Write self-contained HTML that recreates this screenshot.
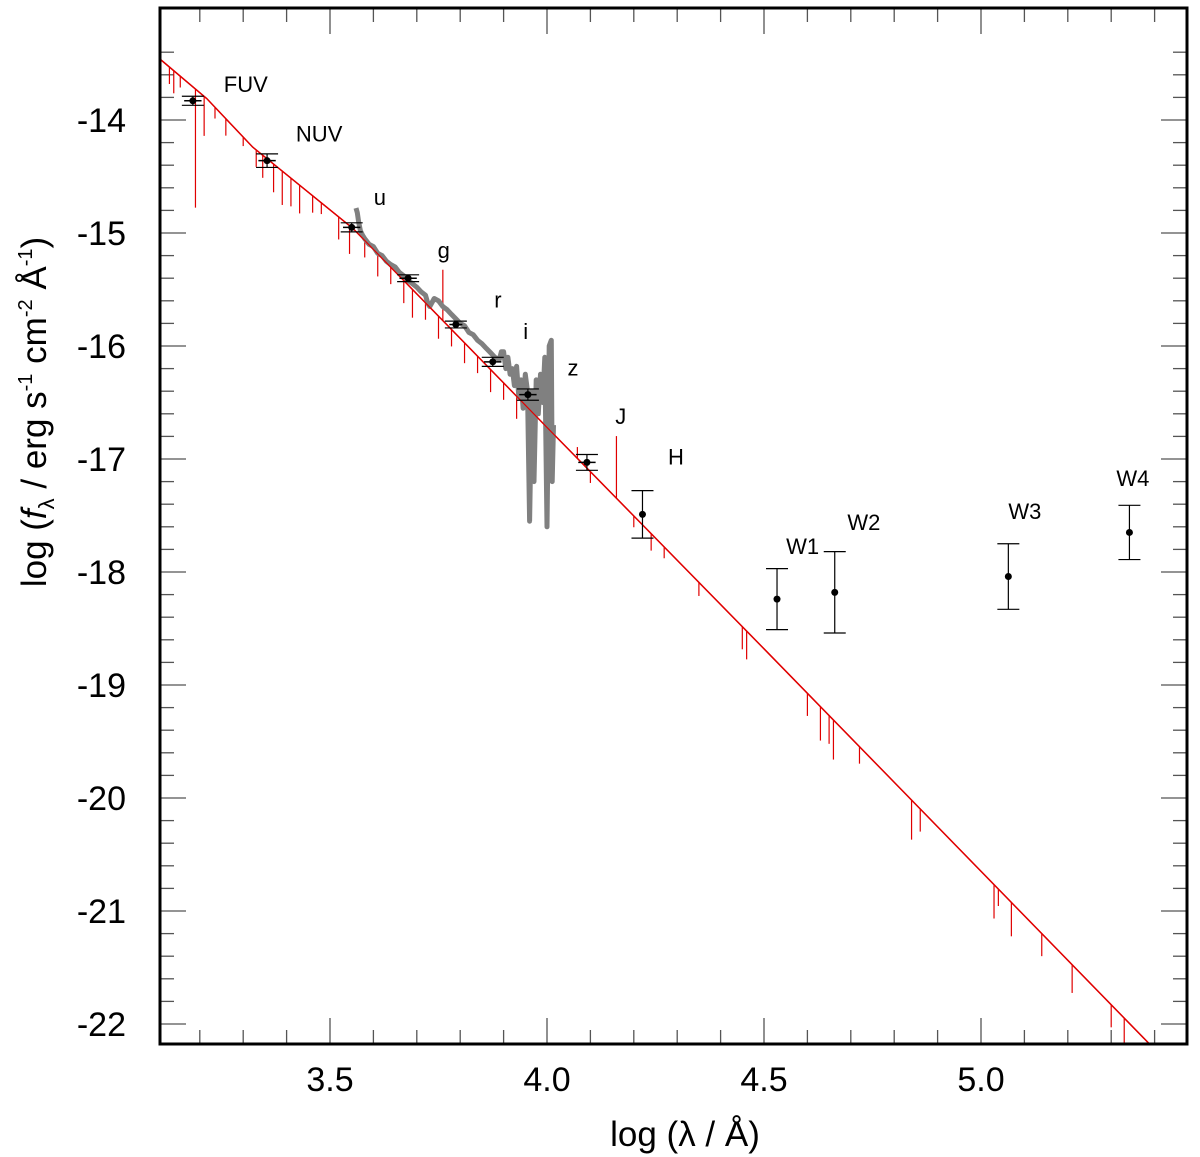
<!DOCTYPE html>
<html><head><meta charset="utf-8">
<style>
body{margin:0;background:#fff;}
svg{display:block;font-family:"Liberation Sans","DejaVu Sans",sans-serif;}
</style></head>
<body>
<svg id="chart" width="1200" height="1157" viewBox="0 0 1200 1157" xmlns="http://www.w3.org/2000/svg">
<g id="ticks"></g>
<g id="model"></g>
<g id="spec"></g>
<g id="pts"></g>
<g id="labs"></g>
<rect x="160" y="8" width="1027" height="1036" fill="none" stroke="#000" stroke-width="3"/>
<text x="685" y="1146" font-size="35" text-anchor="middle">log (λ / Å)</text>
<text transform="translate(46,412) rotate(-90)" font-size="35" text-anchor="middle">log (<tspan font-style="italic">f</tspan><tspan font-size="22" dy="8">λ</tspan><tspan dy="-8"> / erg s</tspan><tspan font-size="20" dy="-14">-1</tspan><tspan dy="14"> cm</tspan><tspan font-size="20" dy="-14">-2</tspan><tspan dy="14"> Å</tspan><tspan font-size="20" dy="-14">-1</tspan><tspan dy="14">)</tspan></text>
</svg>
<script>
const xTicks = [3.5, 4.0, 4.5, 5.0];
const xTickLabels = ["3.5", "4.0", "4.5", "5.0"];
const yTicks = [-14, -15, -16, -17, -18, -19, -20, -21, -22];
const yTickLabels = ["-14", "-15", "-16", "-17", "-18", "-19", "-20", "-21", "-22"];
const bands = ["FUV","NUV","u","g","r","i","z","J","H","W1","W2","W3","W4"];
const bandX = [3.184,3.355,3.55,3.68,3.79,3.875,3.956,4.092,4.22,4.53,4.663,5.063,5.342];
const bandY = [-13.83,-14.36,-14.95,-15.40,-15.81,-16.14,-16.43,-17.03,-17.49,-18.24,-18.18,-18.04,-17.65];
const bandErr = [0.04,0.06,0.04,0.03,0.03,0.04,0.05,0.07,0.21,0.27,0.36,0.29,0.24];
const bandXErr = [0.02,0.02,0.02,0.02,0.015,0.02,0.02,0.02,0,0,0,0,0];
const labelX = [3.306,3.475,3.615,3.762,3.887,3.951,4.060,4.170,4.297,4.589,4.730,5.101,5.350];
const labelY = [-13.75,-14.19,-14.75,-15.22,-15.66,-15.94,-16.26,-16.69,-17.05,-17.84,-17.63,-17.53,-17.24];
const modelX = [3.108,3.216,3.322,3.553,4.0,4.5,5.45];
const modelY = [-13.46,-13.81,-14.24,-14.96,-16.72,-18.68,-22.42];
const spikeX = [3.13,3.14,3.155,3.19,3.21,3.235,3.26,3.30,3.33,3.345,3.37,3.39,3.41,3.43,3.46,3.48,3.52,3.545,3.58,3.61,3.64,3.67,3.69,3.72,3.75,3.76,3.78,3.81,3.84,3.87,3.90,3.93,3.97,4.01,4.07,4.10,4.16,4.2,4.24,4.27,4.35,4.45,4.46,4.6,4.63,4.65,4.66,4.72,4.84,4.86,5.03,5.04,5.07,5.14,5.21,5.3,5.33,5.41];
const spikeD = [-0.15,-0.2,-0.1,-1.05,-0.35,-0.1,-0.15,-0.08,-0.15,-0.2,-0.25,-0.3,-0.25,-0.25,-0.15,-0.1,-0.2,-0.25,-0.15,-0.2,-0.15,-0.2,-0.25,-0.15,-0.2,0.45,-0.15,-0.18,-0.15,-0.2,-0.15,-0.2,-0.18,-0.1,0.1,-0.1,0.55,-0.1,-0.15,-0.1,-0.12,-0.2,-0.25,-0.2,-0.3,-0.25,-0.35,-0.15,-0.35,-0.2,-0.3,-0.15,-0.3,-0.2,-0.25,-0.2,-0.3,-0.2];
const specX = [3.560,3.563,3.566,3.57,3.575,3.58,3.59,3.60,3.61,3.62,3.63,3.64,3.65,3.66,3.67,3.68,3.69,3.70,3.71,3.72,3.725,3.73,3.74,3.75,3.76,3.77,3.78,3.79,3.80,3.81,3.82,3.83,3.84,3.85,3.86,3.87,3.88,3.89,3.895,3.90,3.905,3.91,3.915,3.92,3.925,3.93,3.935,3.94,3.945,3.95,3.955,3.96,3.965,3.97,3.975,3.98,3.985,3.99,3.995,4.00,4.005,4.01,4.012,4.015];
const specY = [-14.78,-14.82,-14.9,-14.98,-15.02,-15.05,-15.1,-15.12,-15.18,-15.2,-15.25,-15.28,-15.3,-15.35,-15.38,-15.42,-15.45,-15.48,-15.52,-15.55,-15.62,-15.65,-15.58,-15.6,-15.65,-15.68,-15.72,-15.76,-15.8,-15.82,-15.88,-15.9,-15.95,-15.98,-16.02,-16.06,-16.1,-16.12,-16.05,-16.05,-16.2,-16.1,-16.25,-16.2,-16.35,-16.18,-16.45,-16.3,-16.55,-16.25,-16.4,-17.55,-16.4,-17.2,-16.3,-16.6,-16.25,-16.5,-16.1,-17.6,-16.0,-15.95,-17.2,-16.7];

const NS="http://www.w3.org/2000/svg";
const X0=160,X1=1187,Y0=8,Y1=1044;
const sx=v=>330+(v-3.5)*434;
const sy=v=>120+(-14-v)*113;
function mk(tag,attrs,parent){const e=document.createElementNS(NS,tag);for(const k in attrs)e.setAttribute(k,attrs[k]);parent.appendChild(e);return e;}
function modelAt(v){for(let i=0;i<modelX.length-1;i++){if(v<=modelX[i+1]||i===modelX.length-2){const t=(v-modelX[i])/(modelX[i+1]-modelX[i]);return modelY[i]+t*(modelY[i+1]-modelY[i]);}}}

const tg=document.getElementById('ticks');
for(let k=31;k<=54;k++){const v=k/10;const px=sx(v);if(px<X0||px>X1)continue;const major=k%5===0;const L=major?26:14;
 let t=mk('line',{x1:px,x2:px,y1:Y1,y2:Y1-L,stroke:'#555','stroke-width':1.3},tg);
 
 t=mk('line',{x1:px,x2:px,y1:Y0,y2:Y0+L,stroke:'#555','stroke-width':1.3},tg);
 }
for(let k=-110;k<=-67;k+=1){const v=k/5;const py=sy(v);if(py<Y0||py>Y1)continue;const major=k%5===0;const L=major?26:14;
 let t=mk('line',{x1:X0,x2:X0+L,y1:py,y2:py,stroke:'#555','stroke-width':1.3},tg);
 
 t=mk('line',{x1:X1,x2:X1-L,y1:py,y2:py,stroke:'#555','stroke-width':1.3},tg);
 }
xTicks.forEach((v,i)=>{const t=mk('text',{x:sx(v),y:1091,'font-size':34,'text-anchor':'middle'},tg);t.textContent=xTickLabels[i];
 });
yTicks.forEach((v,i)=>{const t=mk('text',{x:126,y:sy(v)+12,'font-size':34,'text-anchor':'end'},tg);t.textContent=yTickLabels[i];
 });

const mg=document.getElementById('model');
const clip=mk('clipPath',{id:'cp'},mk('defs',{},mg));mk('rect',{x:X0,y:Y0,width:X1-X0,height:Y1-Y0},clip);
let d='';modelX.forEach((v,i)=>{d+=(i?'L':'M')+sx(v).toFixed(1)+','+sy(modelY[i]).toFixed(1);});
const ml=mk('path',{d:d,fill:'none',stroke:'#e00000','stroke-width':1.5,'clip-path':'url(#cp)'},mg);

spikeX.forEach((v,i)=>{const b=modelAt(v);const s=mk('line',{x1:sx(v),x2:sx(v),y1:sy(b),y2:sy(b+spikeD[i]),stroke:'#e00000','stroke-width':1.2,'clip-path':'url(#cp)'},mg);
 });

const sg=document.getElementById('spec');
let ds='';specX.forEach((v,i)=>{ds+=(i?'L':'M')+sx(v).toFixed(1)+','+sy(specY[i]).toFixed(1);});
const sp=mk('path',{d:ds,fill:'none',stroke:'#808080','stroke-width':5,'stroke-linejoin':'round'},sg);

const ml2=mk('path',{d:d,fill:'none',stroke:'#e00000','stroke-width':1.2,'clip-path':'url(#cp)'},sg);


const pg=document.getElementById('pts');
bandX.forEach((v,i)=>{const g=mk('g',{},pg);
 
 const x=sx(v),y=sy(bandY[i]),yt=sy(bandY[i]+bandErr[i]),yb=sy(bandY[i]-bandErr[i]);
 mk('line',{x1:x,x2:x,y1:yt,y2:yb,stroke:'#000','stroke-width':1.2},g);
 mk('line',{x1:x-11,x2:x+11,y1:yt,y2:yt,stroke:'#000','stroke-width':1.2},g);
 mk('line',{x1:x-11,x2:x+11,y1:yb,y2:yb,stroke:'#000','stroke-width':1.2},g);
 if(bandXErr[i]>0){mk('line',{x1:sx(v-bandXErr[i]),x2:sx(v+bandXErr[i]),y1:y,y2:y,stroke:'#000','stroke-width':1.5},g);}
 mk('circle',{cx:x,cy:y,r:3.5,fill:'#000'},g);});

const lg=document.getElementById('labs');
bands.forEach((b,i)=>{const t=mk('text',{x:sx(labelX[i]),y:sy(labelY[i]),'font-size':22,'text-anchor':'middle'},lg);t.textContent=b;
 });
</script>
</body></html>
